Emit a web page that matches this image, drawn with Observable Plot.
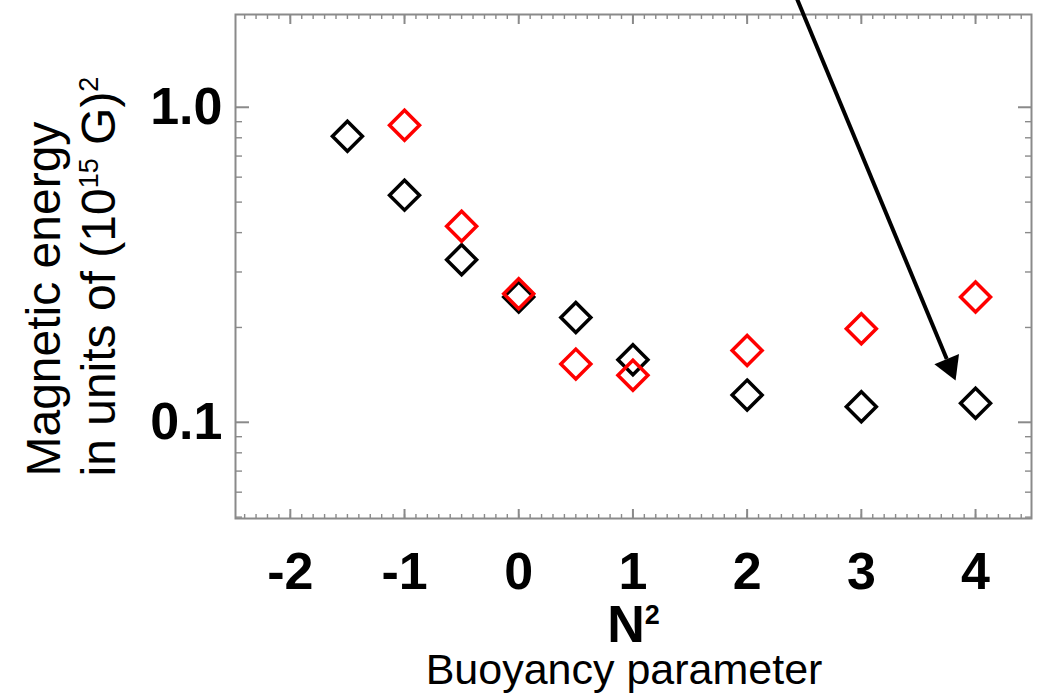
<!DOCTYPE html>
<html>
<head>
<meta charset="utf-8">
<script src="https://cdn.jsdelivr.net/npm/d3@7"></script>
<script src="https://cdn.jsdelivr.net/npm/@observablehq/plot@0.6"></script>
<style>
  html, body { margin: 0; padding: 0; background: #fff; }
  #chart svg { display: block; }
</style>
</head>
<body>
<div id="chart"></div>
<script>
// Magnetic energy, in units of (10^15 G)^2, against the buoyancy parameter N^2
const n2Black = [-1.5, -1, -0.5, 0, 0.5, 1, 2, 3, 4];
const energyBlack = [0.809, 0.526, 0.328, 0.250, 0.215, 0.158, 0.122, 0.112, 0.115];

const n2Red = [-1, -0.5, 0, 0.5, 1, 2, 3, 4];
const energyRed = [0.877, 0.419, 0.256, 0.153, 0.141, 0.169, 0.198, 0.250];

// Axis ticks and their labels
const xTicks = [-2, -1, 0, 1, 2, 3, 4];
const xTickLabels = ["-2", "-1", "0", "1", "2", "3", "4"];
const yTicks = [0.1, 1.0];
const yTickLabels = ["0.1", "1.0"];

// Annotation arrow: tail (above the frame) and the base of its head
const arrowFrom = {x: 2.296, y: 2.93};
const arrowTo = {x: 3.748, y: 0.1587};

const black = n2Black.map((x, i) => ({x, y: energyBlack[i]}));
const red = n2Red.map((x, i) => ({x, y: energyRed[i]}));

// Minor ticks: tenths on x, 2..9 × decade on the log y axis
const xMinor = d3.range(-24, 45).map((i) => i / 10);
const yMinor = [0.05, 0.06, 0.07, 0.08, 0.09, 0.2, 0.3, 0.4, 0.5, 0.6, 0.7, 0.8, 0.9];

const grey = "#8a8a8a";
const font = '"Liberation Sans", Arial, Helvetica, sans-serif';

const chart = Plot.plot({
  width: 1052,
  height: 693,
  marginLeft: 235,
  marginRight: 21,
  marginTop: 14,
  marginBottom: 175,
  style: {fontFamily: font, background: "#fff", color: "#000"},
  x: {domain: [-2.48, 4.49], label: null},
  y: {type: "log", domain: [0.0495, 1.97], label: null},
  marks: [
    Plot.frame({stroke: grey, strokeWidth: 2}),
    // inward ticks on all four sides
    ...["bottom", "top"].flatMap((anchor) => [
      Plot.axisX({anchor, ticks: xMinor, tickSize: -4, text: null, stroke: grey, strokeWidth: 1.4}),
      Plot.axisX({anchor, ticks: xTicks, tickSize: -9, text: null, stroke: grey, strokeWidth: 2})
    ]),
    ...["left", "right"].flatMap((anchor) => [
      Plot.axisY({anchor, ticks: yMinor, tickSize: -7, text: null, stroke: grey, strokeWidth: 1.4}),
      Plot.axisY({anchor, ticks: yTicks, tickSize: -14, text: null, stroke: grey, strokeWidth: 2})
    ]),
    // tick labels
    Plot.axisX({
      anchor: "bottom", ticks: xTicks, tickSize: 0, tickPadding: 34,
      tickFormat: (d) => xTickLabels[xTicks.indexOf(d)],
      fontSize: 52, fontWeight: "bold", fill: "#000"
    }),
    Plot.axisY({
      anchor: "left", ticks: yTicks, tickSize: 0, tickPadding: 13,
      tickFormat: (d) => yTickLabels[yTicks.indexOf(d)],
      fontSize: 52, fontWeight: "bold", fill: "#000"
    }),
    // data
    Plot.dot(black, {x: "x", y: "y", symbol: "diamond2", r: 13.5, stroke: "#000", strokeWidth: 3.5, fill: "none"}),
    Plot.dot(red, {x: "x", y: "y", symbol: "diamond2", r: 13.5, stroke: "#ff0000", strokeWidth: 3.5, fill: "none"}),
    // annotation arrow
    Plot.link([{a: arrowFrom, b: arrowTo}], {
      x1: (d) => d.a.x, y1: (d) => d.a.y, x2: (d) => d.b.x, y2: (d) => d.b.y,
      stroke: "#000", strokeWidth: 4, clip: false
    }),
    Plot.dot([arrowTo], {
      x: "x", y: "y", symbol: "triangle", r: 9.9, fill: "#000", stroke: null,
      rotate: 157.4, dx: 2.9, dy: 7.1
    }),
    // axis titles
    Plot.text(["N^2"], {
      text: (d) => d, frameAnchor: "bottom", lineAnchor: "bottom", textAnchor: "middle",
      dy: 123, fontSize: 52, fontWeight: "bold", fill: "#000"
    }),
    Plot.text(["Buoyancy parameter"], {
      text: (d) => d, frameAnchor: "bottom", lineAnchor: "bottom", textAnchor: "middle",
      dx: -9.5, dy: 165, fontSize: 43, fill: "#000"
    }),
    Plot.text(["Magnetic energy"], {
      text: (d) => d, frameAnchor: "bottom-left", lineAnchor: "bottom", textAnchor: "start",
      rotate: -90, dx: -176, dy: -42, fontSize: 48, fill: "#000"
    }),
    Plot.text(["in units of (10^15 G)^2"], {
      text: (d) => d, frameAnchor: "bottom-left", lineAnchor: "bottom", textAnchor: "start",
      rotate: -90, dx: -121, dy: -42, fontSize: 48, fill: "#000"
    })
  ]
});

// Turn the ^ markers in the titles into raised, smaller tspans
function superscripts(svg, raw, supSize, rise) {
  d3.select(svg).selectAll("text")
    .filter(function () { return this.textContent === raw; })
    .each(function () {
      const t = d3.select(this);
      t.text(null);
      const parts = raw.split(/\^(\d+)/);
      parts.forEach((s, i) => {
        if (!s) return;
        const sup = i % 2 === 1;
        const span = t.append("tspan").text(s);
        if (sup) span.attr("font-size", supSize).attr("dy", -rise);
        else if (i > 0) span.attr("dy", rise);
      });
    });
}
superscripts(chart, "N^2", 27, 18);
superscripts(chart, "in units of (10^15 G)^2", 27, 17);

document.getElementById("chart").append(chart);
</script>
</body>
</html>
